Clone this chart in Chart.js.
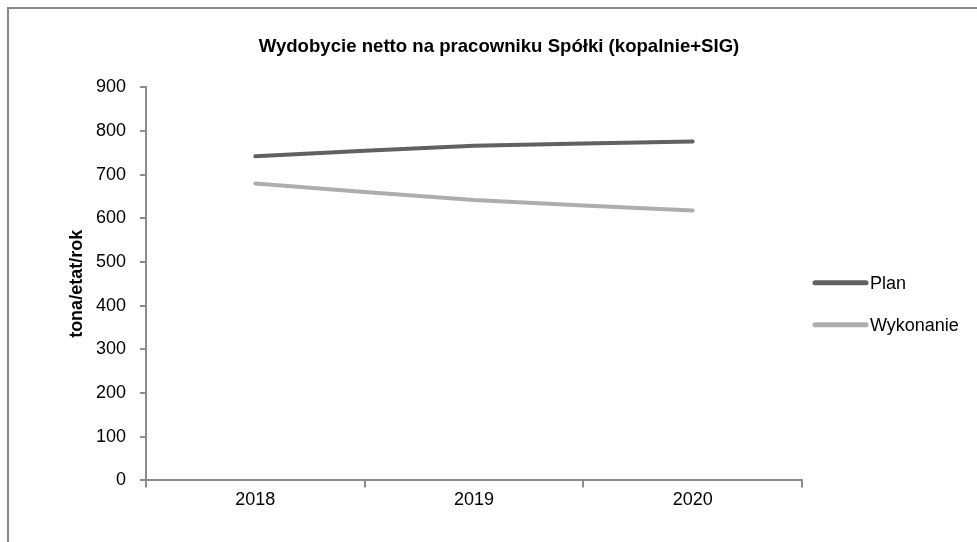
<!DOCTYPE html>
<html>
<head>
<meta charset="utf-8">
<script src="https://cdn.jsdelivr.net/npm/chart.js@4"></script>
<style>
  html, body { margin: 0; padding: 0; background: #fff; }
  #wrap { position: relative; width: 977px; height: 542px; overflow: hidden; }
  #frame { position: absolute; left: 7px; top: 7px; width: 1000px; height: 600px;
           border-left: 2px solid #8a8a8a; border-top: 2px solid #8a8a8a; }
  #myChart { position: absolute; left: 0; top: 0; }
</style>
</head>
<body>
<div id="wrap">
  <div id="frame"></div>
  <canvas id="myChart" width="977" height="542"></canvas>
</div>
<script>
var years = ['2018', '2019', '2020'];
var plan = [742, 766, 776];
var wykonanie = [680, 642, 618];
var yTicks = [0, 100, 200, 300, 400, 500, 600, 700, 800, 900];

var font = "'Liberation Sans', Arial, sans-serif";
var axisColor = '#8c8c8c';

// legend on the right: short thick line with the series name after it
var sideLegend = {
    id: 'sideLegend',
    afterDraw: function (chart) {
        var c = chart.ctx;
        var area = chart.chartArea;
        var midY = (area.top + area.bottom) / 2 + 20;
        c.save();
        c.font = '18px ' + font;
        c.textBaseline = 'middle';
        c.fillStyle = '#000';
        chart.data.datasets.forEach(function (ds, i) {
            var y = midY + (i - 0.5) * 42;
            c.beginPath();
            c.strokeStyle = ds.borderColor;
            c.lineWidth = 5;
            c.lineCap = 'round';
            c.moveTo(area.right + 13, y);
            c.lineTo(area.right + 64, y);
            c.stroke();
            c.fillText(ds.label, area.right + 68, y + 1);
        });
        c.restore();
    }
};

var ctx = document.getElementById('myChart').getContext('2d');
var myChart = new Chart(ctx, {
    type: 'line',
    data: {
        labels: years,
        datasets: [{
            label: 'Plan',
            data: plan,
            borderColor: '#616161',
            backgroundColor: '#616161',
            borderWidth: 4,
            borderCapStyle: 'round',
            pointRadius: 0,
            tension: 0.2
        }, {
            label: 'Wykonanie',
            data: wykonanie,
            borderColor: '#adadad',
            backgroundColor: '#adadad',
            borderWidth: 4,
            borderCapStyle: 'round',
            pointRadius: 0,
            tension: 0.2
        }]
    },
    options: {
        responsive: false,
        animation: false,
        layout: {
            padding: { left: 66, right: 45, top: 0, bottom: 29 }
        },
        plugins: {
            title: {
                display: true,
                text: 'Wydobycie netto na pracowniku Spółki (kopalnie+SIG)',
                color: '#000',
                font: { family: font, size: 18.6, weight: 'bold' },
                padding: { top: 36, bottom: 29 }
            },
            legend: { display: false },
            tooltip: { enabled: false }
        },
        scales: {
            x: {
                offset: true,
                grid: {
                    offset: true,
                    drawOnChartArea: false,
                    drawTicks: true,
                    tickLength: 7,
                    color: axisColor,
                    lineWidth: 2
                },
                border: { color: axisColor, width: 2 },
                ticks: {
                    color: '#000',
                    font: { family: font, size: 18 },
                    padding: 2
                }
            },
            y: {
                min: 0,
                max: 900,
                afterBuildTicks: function (axis) {
                    axis.ticks = yTicks.map(function (v) { return { value: v }; });
                },
                afterFit: function (axis) { axis.width = 80; },
                grid: {
                    drawOnChartArea: false,
                    drawTicks: true,
                    tickLength: 6,
                    color: axisColor,
                    lineWidth: 2
                },
                border: { color: axisColor, width: 2 },
                ticks: {
                    color: '#000',
                    font: { family: font, size: 18 },
                    padding: 14
                },
                title: {
                    display: true,
                    text: 'tona/etat/rok',
                    color: '#000',
                    font: { family: font, size: 18, weight: 'bold' },
                    padding: { top: 0, bottom: 8 }
                }
            },
            // empty strip on the right that keeps room for the legend
            side: {
                position: 'right',
                display: true,
                grid: { display: false },
                border: { display: false },
                ticks: { display: false },
                afterFit: function (axis) { axis.width = 130; }
            }
        }
    },
    plugins: [sideLegend]
});
</script>
</body>
</html>
